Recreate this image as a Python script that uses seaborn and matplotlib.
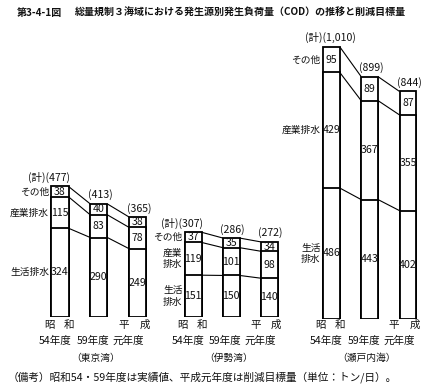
import matplotlib
matplotlib.use("Agg")
import matplotlib.pyplot as plt
import seaborn as sns
import pandas as pd

sns.set_theme(style="white")
plt.rcParams["font.family"] = ["Noto Sans CJK JP", "DejaVu Sans"]

# ---------------- data ----------------
years = ["昭和54年度", "昭和59年度", "平成元年度"]
year_labels = ["54年度", "59年度", "元年度"]

tokyo_life = [324, 290, 249]
tokyo_ind = [115, 83, 78]
tokyo_other = [38, 40, 38]
tokyo_total = [477, 413, 365]

ise_life = [151, 150, 140]
ise_ind = [119, 101, 98]
ise_other = [37, 35, 34]
ise_total = [307, 286, 272]

seto_life = [486, 443, 402]
seto_ind = [429, 367, 355]
seto_other = [95, 89, 87]
seto_total = [1010, 899, 844]

bay_names = ["（東京湾）", "（伊勢湾）", "（瀬戸内海）"]
cat_labels = [
    ["その他", "産業排水", "生活排水"],
    ["その他", "産業\n排水", "生活\n排水"],
    ["その他", "産業排水", "生活\n排水"],
]
total_fmt = ["{:,}", "{:,}", "{:,}"]

title_no = "第3-4-1図"
title = "総量規制３海域における発生源別発生負荷量（COD）の推移と削減目標量"
note = "（備考）昭和54・59年度は実績値、平成元年度は削減目標量（単位：トン/日）。"

# ---------------- layout ----------------
W, H = 430, 392
fig = plt.figure(figsize=(W / 100, H / 100), dpi=100)
fig.patch.set_facecolor("white")


def fx(x):
    return x / W


def fy(y):
    return 1 - y / H


panels = [
    dict(life=tokyo_life, ind=tokyo_ind, other=tokyo_other, total=tokyo_total,
         left=40.6, width=116.5, top=20, base=316.7, scale=0.273, tot_dx=0.0),
    dict(life=ise_life, ind=ise_ind, other=ise_other, total=ise_total,
         left=174.3, width=113.9, top=20, base=316.7, scale=0.275, tot_dx=0.0),
    dict(life=seto_life, ind=seto_ind, other=seto_other, total=seto_total,
         left=312.1, width=115.0, top=20, base=319.0, scale=0.2696, tot_dx=0.38),
]

BW = 0.44
FS = 7
txt_kw = dict(color="#111111", fontsize=FS)
num_kw = dict(color="#111111", fontsize=7.6)

for p_i, p in enumerate(panels):
    h_px = p["base"] - p["top"]
    ax = fig.add_axes([fx(p["left"]), fy(p["base"]), fx(p["width"]), h_px / H])
    ymax = h_px / p["scale"]

    life = p["life"]
    ind = p["ind"]
    other = p["other"]
    c1 = life
    c2 = [a + b for a, b in zip(life, ind)]
    c3 = [a + b + c for a, b, c in zip(life, ind, other)]

    for cum in (c3, c2, c1):
        df = pd.DataFrame({"year": years, "v": cum})
        sns.barplot(data=df, x="year", y="v", order=years, color="white",
                    saturation=1, edgecolor="black", linewidth=1.3,
                    width=BW, errorbar=None, ax=ax)

    # connecting lines
    for cum in (c1, c2, c3):
        for i in range(len(years) - 1):
            ax.plot([i + BW / 2, i + 1 - BW / 2], [cum[i], cum[i + 1]],
                    color="black", lw=0.8, solid_capstyle="butt")

    # values in segments
    for i in range(len(years)):
        bounds = [0, c1[i], c2[i], c3[i]]
        vals = [life[i], ind[i], other[i]]
        for k in range(3):
            ax.text(i, (bounds[k] + bounds[k + 1]) / 2, str(vals[k]),
                    ha="center", va="center", **num_kw)
        # totals
        tv = total_fmt[p_i].format(p["total"][i])
        if i == 0:
            ax.text(i + BW / 2 + p["tot_dx"] + 0.03, c3[i] + 9.0 / p["scale"],
                    "(計)(" + tv + ")", ha="right", va="center", **num_kw)
        else:
            ax.text(i + 0.04, c3[i] + 9.0 / p["scale"], "(" + tv + ")",
                    ha="center", va="center", **num_kw)

    # category labels on the left of first bar
    bounds0 = [0, c1[0], c2[0], c3[0]]
    labs = cat_labels[p_i]
    for k, lab in zip([2, 1, 0], labs):
        ax.text(-BW / 2 - 0.06, (bounds0[k] + bounds0[k + 1]) / 2, lab,
                ha="right", va="center", linespacing=1.15, **txt_kw)

    ax.set_xlim(-0.5, 2.5)
    ax.set_ylim(0, ymax)
    ax.axis("off")

    # bottom labels (pixel positions derived from bar centers)
    step = p["width"] / 3
    centers = [p["left"] + (i + 0.5) * step for i in range(3)]
    fig.text(fx(centers[0] - 11), fy(325), "昭", ha="center", va="center", **num_kw)
    fig.text(fx(centers[0] + 9), fy(325), "和", ha="center", va="center", **num_kw)
    fig.text(fx(centers[2] - 14), fy(325), "平", ha="center", va="center", **num_kw)
    fig.text(fx(centers[2] + 7), fy(325), "成", ha="center", va="center", **num_kw)
    offs = [-5, -6, -9]
    for i in range(3):
        fig.text(fx(centers[i] + offs[i]), fy(341), year_labels[i],
                 ha="center", va="center", **num_kw)
    fig.text(fx(centers[1] - 3), fy(358), bay_names[p_i], ha="center",
             va="center", **txt_kw)

fig.text(fx(17), fy(13), title_no, ha="left", va="center", fontsize=7.2,
         fontweight="bold", color="#111111")
fig.text(fx(75), fy(13), title, ha="left", va="center", fontsize=7.2,
         fontweight="bold", color="#111111")
fig.text(fx(8), fy(377), note, ha="left", va="center", color="#111111",
         fontsize=7.7)

fig.savefig("out.png", dpi=100, facecolor="white")
